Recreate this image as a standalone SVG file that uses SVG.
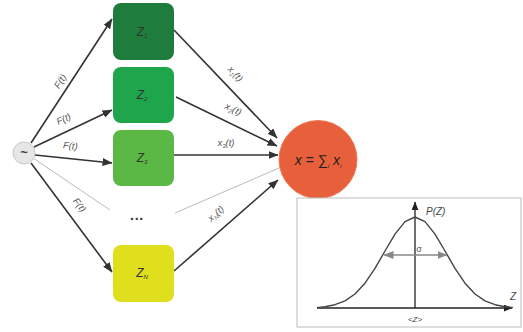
<svg xmlns="http://www.w3.org/2000/svg" width="523" height="332" viewBox="0 0 523 332">
<defs>
<marker id="ah" viewBox="0 0 10 8" refX="9.5" refY="4" markerWidth="10" markerHeight="8" orient="auto" markerUnits="userSpaceOnUse">
<path d="M0,0 L10,4 L0,8 z" fill="#333"/>
</marker>
<marker id="ahg" viewBox="0 0 10 8" refX="9.5" refY="4" markerWidth="10" markerHeight="8" orient="auto-start-reverse" markerUnits="userSpaceOnUse">
<path d="M0,0 L10,4 L0,8 z" fill="#888"/>
</marker>
<marker id="ahk" viewBox="0 0 10 8" refX="9.5" refY="4" markerWidth="9" markerHeight="7" orient="auto" markerUnits="userSpaceOnUse">
<path d="M0,0 L10,4 L0,8 z" fill="#222"/>
</marker>
</defs>
<style>
.e{stroke:#333;stroke-width:1.6;fill:none;marker-end:url(#ah)}
.g{stroke:#bbb;stroke-width:1;fill:none}
.lb{font-family:"Liberation Sans",Arial,sans-serif;font-style:italic;font-size:9.5px;fill:#555}
.bx{stroke:none}
.bt{font-family:"Liberation Sans",Arial,sans-serif;font-style:italic;font-size:12px;fill:#333;text-anchor:middle}
.sb{font-size:6px}
</style>
<rect width="523" height="332" fill="#fff"/>
<g id="connectors">
<line class="e" x1="31" y1="143" x2="112" y2="19"/>
<line class="e" x1="34" y1="147" x2="112" y2="110"/>
<line class="e" x1="35" y1="155" x2="112" y2="163"/>
<line class="e" x1="31" y1="163" x2="112" y2="272"/>
<line class="g" x1="33" y1="158" x2="110" y2="210"/>
<line class="g" x1="175" y1="213" x2="279" y2="168"/>
<line class="e" x1="174" y1="30" x2="277" y2="138"/>
<line class="e" x1="176" y1="97" x2="277" y2="146"/>
<line class="e" x1="173" y1="155" x2="278" y2="155"/>
<line class="e" x1="174" y1="271" x2="278" y2="180"/>
<text class="lb" text-anchor="middle" transform="translate(63,83) rotate(-57)">F(t)</text>
<text class="lb" text-anchor="middle" transform="translate(65,122) rotate(-25)">F(t)</text>
<text class="lb" text-anchor="middle" transform="translate(70,149) rotate(6)">F(t)</text>
<text class="lb" text-anchor="middle" transform="translate(77,207) rotate(53)">F(t)</text>
<text class="lb" text-anchor="middle" transform="translate(233,76) rotate(47)">x<tspan class="sb" dy="2">1</tspan><tspan dy="-2">(t)</tspan></text>
<text class="lb" text-anchor="middle" transform="translate(232,112) rotate(26)">x<tspan class="sb" dy="2">2</tspan><tspan dy="-2">(t)</tspan></text>
<text class="lb" text-anchor="middle" transform="translate(226,146)">x<tspan class="sb" dy="2">3</tspan><tspan dy="-2">(t)</tspan></text>
<text class="lb" text-anchor="middle" transform="translate(218,216) rotate(-42)">x<tspan class="sb" dy="2">N</tspan><tspan dy="-2">(t)</tspan></text>
</g>
<g id="source">
<circle cx="24" cy="153" r="11" fill="#e6e6e6" stroke="#c8c8c8" stroke-width="1"/>
<text x="24" y="157" font-family="Liberation Sans,Arial,sans-serif" font-size="13" font-weight="bold" fill="#444" text-anchor="middle">~</text>
</g>
<g id="z1">
<rect class="bx" x="113" y="3" width="61" height="57" rx="8" fill="#1e7d3d"/>
<text class="bt" x="142" y="36">Z<tspan class="sb" dy="2">1</tspan></text>
</g>
<g id="z2">
<rect class="bx" x="113" y="67" width="61" height="56" rx="8" fill="#1fa54b"/>
<text class="bt" x="142" y="99">Z<tspan class="sb" dy="2">2</tspan></text>
</g>
<g id="z3">
<rect class="bx" x="113" y="130" width="61" height="56" rx="8" fill="#5cb845"/>
<text class="bt" x="142" y="162">Z<tspan class="sb" dy="2">3</tspan></text>
</g>
<g id="dots">
<text x="137" y="224" font-family="Liberation Sans,Arial,sans-serif" font-size="14" font-weight="bold" fill="#333" text-anchor="middle">···</text>
</g>
<g id="zN">
<rect class="bx" x="113" y="245" width="61" height="57" rx="8" fill="#e0df1e"/>
<text class="bt" x="142" y="277">Z<tspan class="sb" dy="2">N</tspan></text>
</g>
<g id="sum">
<circle cx="318" cy="159.5" r="39" fill="#e8603b" stroke="#ef7a55" stroke-width="1"/>
<text x="318" y="165" font-family="Liberation Sans,Arial,sans-serif" font-size="14" font-style="italic" fill="#222" text-anchor="middle">x = ∑<tspan font-size="6" dy="3">i</tspan><tspan dy="-3"> x</tspan><tspan font-size="6" dy="3">i</tspan></text>
</g>
<g id="distribution">
<rect x="297" y="198" width="224" height="129" fill="#fff" stroke="#bbb" stroke-width="1"/>
<line x1="317" y1="308" x2="512" y2="308" stroke="#222" stroke-width="1.3" marker-end="url(#ahk)"/>
<line x1="415" y1="308" x2="415" y2="202" stroke="#222" stroke-width="1.3" marker-end="url(#ahk)"/>
<polyline fill="none" stroke="#444" stroke-width="1.4" stroke-linejoin="round" points="317,307.6 325,306.7 335,304.7 345,300.9 355,294 365,283.2 375,268.4 385,251 395,234.1 405,221.6 415,217 425,221.6 435,234.1 445,251 455,268.4 465,283.2 475,294 485,300.9 495,304.7 505,306.7 513,307.6"/>
<line x1="384" y1="255" x2="447" y2="255" stroke="#888" stroke-width="1.6" marker-start="url(#ahg)" marker-end="url(#ahg)"/>
<text x="419" y="252" font-family="Liberation Sans,Arial,sans-serif" font-size="9" fill="#555" text-anchor="middle">σ</text>
<text x="426" y="215" font-family="Liberation Sans,Arial,sans-serif" font-size="10" font-style="italic" fill="#444">P(Z)</text>
<text x="510" y="300" font-family="Liberation Sans,Arial,sans-serif" font-size="10" font-style="italic" fill="#444">Z</text>
<text x="415" y="322" font-family="Liberation Sans,Arial,sans-serif" font-size="8" font-style="italic" fill="#444" text-anchor="middle">&lt;Z&gt;</text>
</g>
</svg>
